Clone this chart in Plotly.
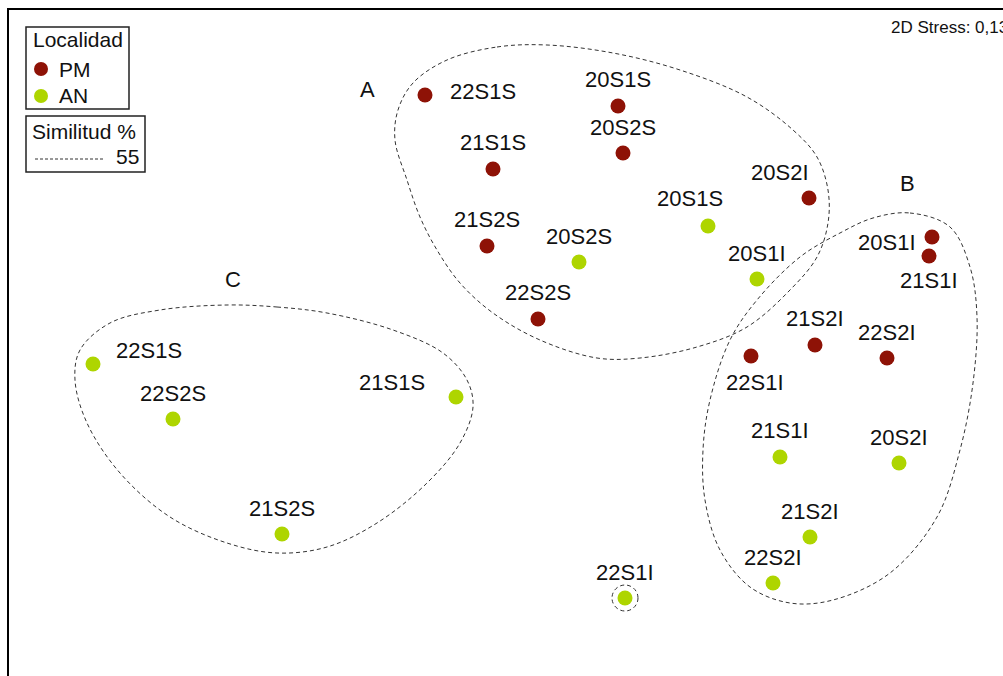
import plotly.graph_objects as go

# NMDS ordination scores (axis 1, axis 2) per sample
pm_labels = ["22S1S", "20S1S", "20S2S", "21S1S", "20S2I", "21S2S", "22S2S",
             "20S1I", "21S1I", "21S2I", "22S2I", "22S1I"]
pm_x = [-0.300, 0.472, 0.492, -0.028, 1.236, -0.052, 0.152,
        1.728, 1.716, 1.260, 1.548, 1.004]
pm_y = [0.972, 0.928, 0.740, 0.676, 0.560, 0.368, 0.076,
        0.404, 0.328, -0.028, -0.080, -0.072]

an_labels = ["20S1S", "20S2S", "20S1I", "22S1S", "22S2S", "21S1S", "21S2S",
             "22S1I", "21S1I", "20S2I", "21S2I", "22S2I"]
an_x = [0.832, 0.316, 1.028, -1.628, -1.308, -0.176, -0.872,
        0.500, 1.120, 1.596, 1.240, 1.092]
an_y = [0.448, 0.304, 0.236, -0.104, -0.324, -0.236, -0.784,
        -1.040, -0.476, -0.500, -0.796, -0.980]

# 55 % similarity cluster outlines (NMDS units)
hull_a_x = [-0.212, -0.012, 0.188, 0.452, 0.720, 0.988, 1.172, 1.268, 1.312, 1.312,
            1.268, 1.160, 0.988, 0.788, 0.560, 0.388, 0.160, -0.028, -0.160, -0.252,
            -0.320, -0.372, -0.420, -0.408, -0.348]
hull_a_y = [1.112, 1.164, 1.172, 1.140, 1.072, 0.964, 0.832, 0.724, 0.592, 0.460,
            0.324, 0.192, 0.044, -0.036, -0.080, -0.080, -0.008, 0.100, 0.220, 0.352,
            0.484, 0.632, 0.792, 0.912, 1.020]
hull_b_x = [1.492, 1.640, 1.800, 1.880, 1.908, 1.892, 1.840, 1.748, 1.560, 1.332,
            1.160, 1.000, 0.880, 0.820, 0.812, 0.840, 0.920, 1.028, 1.200, 1.360]
hull_b_y = [0.480, 0.500, 0.444, 0.284, 0.084, -0.180, -0.448, -0.716, -0.940, -1.048,
            -1.060, -0.996, -0.848, -0.648, -0.448, -0.248, -0.008, 0.152, 0.324, 0.420]
hull_c_x = [-1.092, -0.892, -0.692, -0.428, -0.228, -0.132, -0.108, -0.160, -0.292, -0.492,
            -0.692, -0.892, -1.092, -1.320, -1.520, -1.652, -1.700, -1.680, -1.560, -1.360]
hull_c_y = [0.132, 0.124, 0.100, 0.032, -0.060, -0.168, -0.276, -0.420, -0.580, -0.740,
            -0.836, -0.860, -0.820, -0.716, -0.540, -0.340, -0.168, -0.048, 0.060, 0.112]
single_center = (0.500, -1.040)
single_radius = 0.052

group_names = ["A", "B", "C"]
group_x = [-0.532, 1.628, -1.068]
group_y = [0.996, 0.620, 0.236]

stress_text = "2D Stress: 0,13"
similarity_level = "55"

# label offsets (px) relative to each point
pm_shift = [(58, -4), (0, -27), (0, -26), (0, -27), (-29, -26), (0, -27), (0, -27),
            (-45, 5), (0, 24), (0, -27), (0, -26), (4, 26)]
an_shift = [(-18, -28), (0, -26), (0, -26), (56, -14), (0, -26), (-64, -15), (0, -26),
            (0, -26), (0, -27), (0, -26), (0, -26), (0, -26)]

PM_COLOR = "#8E1206"
AN_COLOR = "#AED500"
DASH = "4px,3px"
HULL_LINE = dict(color="#333333", width=1, dash=DASH)
LABEL_FONT = dict(family="Liberation Sans, Arial", size=22, color="#111111")
BOX_FONT = dict(family="Liberation Sans, Arial", size=21, color="#111111")

W, H = 1003, 676
L, T = 9, 10
X_RANGE = [-1.964, 2.012]
Y_RANGE = [-1.352, 1.312]


def px(xp):
    return (xp - L) / (W - L)


def py(yp):
    return 1 - (yp - T) / (H - T)


fig = go.Figure()

for hx, hy in [(hull_a_x, hull_a_y), (hull_b_x, hull_b_y), (hull_c_x, hull_c_y)]:
    fig.add_trace(go.Scatter(
        x=hx + hx[:1], y=hy + hy[:1], mode="lines",
        line=dict(shape="spline", smoothing=1.0, **HULL_LINE),
        hoverinfo="skip", showlegend=False))

fig.add_shape(type="circle", xref="x", yref="y",
              x0=single_center[0] - single_radius, x1=single_center[0] + single_radius,
              y0=single_center[1] - single_radius, y1=single_center[1] + single_radius,
              line=HULL_LINE)

fig.add_trace(go.Scatter(x=pm_x, y=pm_y, mode="markers", text=pm_labels, name="PM",
                         marker=dict(size=15, color=PM_COLOR), showlegend=False))
fig.add_trace(go.Scatter(x=an_x, y=an_y, mode="markers", text=an_labels, name="AN",
                         marker=dict(size=15, color=AN_COLOR), showlegend=False))

annotations = []
for lab, xv, yv, (dx, dy) in zip(pm_labels + an_labels, pm_x + an_x, pm_y + an_y,
                                 pm_shift + an_shift):
    annotations.append(dict(x=xv, y=yv, xref="x", yref="y", text=lab, showarrow=False,
                            xshift=dx, yshift=-dy, font=LABEL_FONT))
for g, gx, gy in zip(group_names, group_x, group_y):
    annotations.append(dict(x=gx, y=gy, xref="x", yref="y", text=g, showarrow=False,
                            font=dict(family="Liberation Sans, Arial", size=22, color="#111111")))

# stress value
annotations.append(dict(x=px(889), y=py(27), xref="paper", yref="paper", text=stress_text,
                        showarrow=False, xanchor="left", yanchor="middle",
                        font=dict(family="Liberation Sans, Arial", size=17, color="#111111")))

# legend boxes
shapes = [
    dict(type="rect", xref="paper", yref="paper", x0=px(26), x1=px(129), y0=py(109), y1=py(27),
         line=dict(color="#222222", width=1.5), fillcolor="white"),
    dict(type="rect", xref="paper", yref="paper", x0=px(26), x1=px(145), y0=py(172), y1=py(116),
         line=dict(color="#222222", width=1.5), fillcolor="white"),
    dict(type="circle", xref="paper", yref="paper", x0=px(34), x1=px(48), y0=py(76), y1=py(62),
         line=dict(width=0), fillcolor=PM_COLOR),
    dict(type="circle", xref="paper", yref="paper", x0=px(34), x1=px(48), y0=py(103), y1=py(89),
         line=dict(width=0), fillcolor=AN_COLOR),
    dict(type="line", xref="paper", yref="paper", x0=px(35), x1=px(104), y0=py(159), y1=py(159),
         line=dict(color="#333333", width=1, dash="3px,2px")),
]
for s in shapes:
    fig.add_shape(**s)

annotations += [
    dict(x=px(31), y=py(40), text="Localidad", xanchor="left"),
    dict(x=px(57), y=py(69), text="PM", xanchor="left"),
    dict(x=px(57), y=py(96), text="AN", xanchor="left"),
    dict(x=px(30), y=py(131), text="Similitud %", xanchor="left"),
    dict(x=px(141), y=py(157), text=similarity_level, xanchor="right"),
]
for a in annotations[-5:]:
    a.update(xref="paper", yref="paper", showarrow=False, yanchor="middle", font=BOX_FONT)

fig.update_layout(
    width=W, height=H,
    margin=dict(l=L, r=0, t=T, b=0),
    paper_bgcolor="white", plot_bgcolor="white",
    annotations=annotations,
    xaxis=dict(range=X_RANGE, side="top", showline=True, linecolor="black", linewidth=2,
               showgrid=False, zeroline=False, showticklabels=False, ticks=""),
    yaxis=dict(range=Y_RANGE, showline=True, linecolor="black", linewidth=2,
               showgrid=False, zeroline=False, showticklabels=False, ticks=""),
)

fig.write_html("out.html")
